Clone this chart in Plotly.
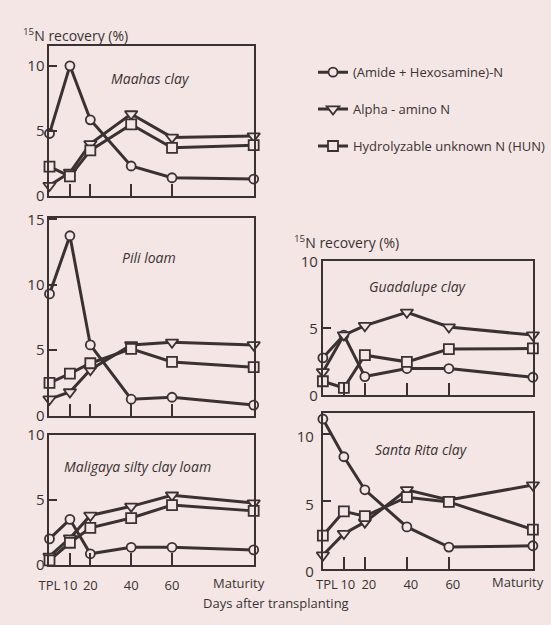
import plotly.graph_objects as go

# ---- data -------------------------------------------------------------
days = [0, 10, 20, 40, 60, 100]
tick_days = [0, 10, 20, 40, 60]
day_tick_labels = ["TPL", "10", "20", "40", "60"]
maturity_day = 100

soils = ["Maahas clay", "Pili loam", "Maligaya silty clay loam",
         "Guadalupe clay", "Santa Rita clay"]

maahas_amide = [4.8, 10.0, 5.85, 2.3, 1.4, 1.3]
maahas_alpha = [0.8, 1.8, 4.0, 6.3, 4.5, 4.6]
maahas_hun = [2.25, 1.5, 3.5, 5.5, 3.7, 3.9]

pili_amide = [9.3, 13.75, 5.4, 1.25, 1.4, 0.8]
pili_alpha = [1.25, 1.8, 3.5, 5.4, 5.6, 5.4]
pili_hun = [2.5, 3.2, 4.0, 5.1, 4.1, 3.7]

maligaya_amide = [2.0, 3.5, 0.85, 1.35, 1.35, 1.15]
maligaya_alpha = [0.65, 2.05, 3.8, 4.5, 5.35, 4.75]
maligaya_hun = [0.35, 1.7, 2.85, 3.6, 4.6, 4.15]

guadalupe_amide = [2.8, 4.5, 1.4, 2.0, 2.0, 1.35]
guadalupe_alpha = [1.75, 4.5, 5.2, 6.2, 5.1, 4.5]
guadalupe_hun = [1.05, 0.55, 3.0, 2.5, 3.45, 3.5]

santarita_amide = [11.1, 8.3, 5.85, 3.1, 1.6, 1.7]
santarita_alpha = [1.0, 2.6, 3.45, 5.85, 5.1, 6.2]
santarita_hun = [2.45, 4.25, 3.9, 5.3, 4.95, 2.9]

series_names = ["(Amide + Hexosamine)-N", "Alpha - amino N",
                "Hydrolyzable unknown N (HUN)"]

soil_series = [
    (maahas_amide, maahas_alpha, maahas_hun),
    (pili_amide, pili_alpha, pili_hun),
    (maligaya_amide, maligaya_alpha, maligaya_hun),
    (guadalupe_amide, guadalupe_alpha, guadalupe_hun),
    (santarita_amide, santarita_alpha, santarita_hun),
]

# ---- styling ----------------------------------------------------------
BG = "#f4e6e5"
INK = "#3a3232"
FONT = "Open Sans"
W, H = 551, 625

symbols = ["circle", "triangle-down", "square"]
sizes = [9, 11, 10]


def px_x(p):
    return p / W


def px_y(p):
    return 1 - p / H


# panel boxes in pixels: (left, right, top, bottom, y_max, y_ticks)
panels = [
    (39.5, 249, 36, 192, 11.55, [0, 5, 10]),
    (39.5, 249, 215, 420, 15.1, [0, 5, 10, 15]),
    (39.5, 249, 440, 575, 10.0, [0, 5, 10]),
    (320, 535.5, 260, 399, 10.0, [0, 5, 10]),
    (320, 535.5, 417, 579, 11.57, [0, 5, 10]),
]
# gap between the bottom axis and its day labels, for the labelled panels
x_standoff = {2: 8, 4: 3}
# sideways nudge of the day labels on the lower right panel
x_label_shift = {4: 4}
# value labels on the lower right panel: pushed left and lifted clear of "TPL"
y_standoff = {4: 4}
y_label_lift = {4: 3}

fig = go.Figure()
layout_axes = {}

for i, ((l, r, t, b, ymax, yt), soil, ser) in enumerate(zip(panels, soils, soil_series)):
    n = "" if i == 0 else str(i + 1)
    xa, ya = "x" + n, "y" + n
    for k, (vals, name) in enumerate(zip(ser, series_names)):
        fig.add_trace(go.Scatter(
            x=days, y=vals, xaxis=xa, yaxis=ya, name=name,
            mode="lines+markers", cliponaxis=False,
            line=dict(color=INK, width=3),
            marker=dict(symbol=symbols[k], size=sizes[k], color=BG,
                        line=dict(color=INK, width=1.8)),
            showlegend=(i == 0), legendgroup="g%d" % k,
        ))
    layout_axes["xaxis" + n] = dict(
        domain=[px_x(l), px_x(r)], range=[0, maturity_day], anchor=ya,
        tickvals=tick_days, ticktext=day_tick_labels, tickangle=0,
        showticklabels=(i in x_standoff),
        ticklabelstandoff=x_standoff.get(i, 0),
        ticklabelshift=x_label_shift.get(i, 0),
        ticks="inside", ticklen=12,
        tickwidth=1.5, tickcolor=INK, showline=True, linewidth=2,
        linecolor=INK, mirror=True, showgrid=False, zeroline=False,
        tickfont=dict(family=FONT, size=13, color=INK),
    )
    layout_axes["yaxis" + n] = dict(
        domain=[px_y(b), px_y(t)], range=[0, ymax], anchor=xa,
        tickvals=yt, ticks="inside", ticklen=8, tickwidth=1.5,
        ticklabelstandoff=y_standoff.get(i, 0),
        ticklabelshift=y_label_lift.get(i, 0),
        tickcolor=INK, showline=True, linewidth=2, linecolor=INK,
        mirror=True, showgrid=False, zeroline=False,
        tickfont=dict(family=FONT, size=15, color=INK),
    )

fig.update_layout(**layout_axes)

annotations = []
# soil names inside each panel
name_pos = [(143, 70), (142, 256), (130, 473), (418, 286), (421, 455)]
for soil, (cx, cy) in zip(soils, name_pos):
    annotations.append(dict(
        text="<i>%s</i>" % soil, x=px_x(cx), y=px_y(cy), xref="paper",
        yref="paper", showarrow=False, xanchor="center", yanchor="middle",
        font=dict(family=FONT, size=14, color=INK)))

# "Maturity" tick label, set slightly left of the last tick
for i, standoff in x_standoff.items():
    n = "" if i == 0 else str(i + 1)
    annotations.append(dict(
        text="Maturity", x=maturity_day, xref="x" + n, y=0, yref="y" + n,
        showarrow=False, xanchor="center", yanchor="top",
        yshift=-standoff, xshift=-15, borderpad=0,
        font=dict(family=FONT, size=13, color=INK)))

# axis titles
for (cx, cy) in [(10, 25), (288, 240)]:
    annotations.append(dict(
        text="<sup>15</sup>N recovery (%)", x=px_x(cx), y=px_y(cy),
        xref="paper", yref="paper", showarrow=False, xanchor="left",
        yanchor="middle", font=dict(family=FONT, size=14, color=INK)))
annotations.append(dict(
    text="Days after transplanting", x=px_x(272), y=0, yshift=0,
    xref="paper", yref="paper", showarrow=False, xanchor="center",
    yanchor="bottom", borderpad=0,
    font=dict(family=FONT, size=13, color=INK)))

fig.update_layout(
    width=W, height=H, margin=dict(l=0, r=0, t=0, b=0),
    paper_bgcolor=BG, plot_bgcolor=BG,
    annotations=annotations,
    legend=dict(x=px_x(310), y=px_y(48), xanchor="left", yanchor="top",
                bgcolor="rgba(0,0,0,0)", tracegroupgap=17,
                font=dict(family=FONT, size=13, color=INK)),
)

fig.write_html("out.html")
